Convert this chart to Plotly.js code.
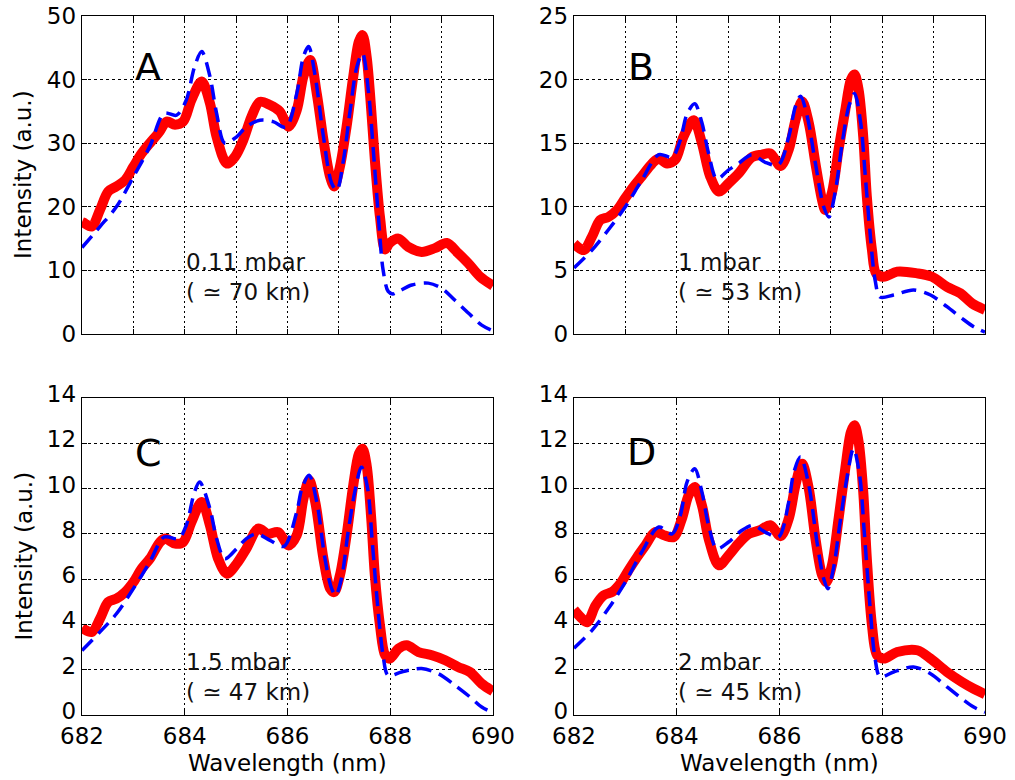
<!DOCTYPE html>
<html>
<head>
<meta charset="utf-8">
<script src="https://cdn.plot.ly/plotly-3.0.1.min.js"></script>
<style>html,body{margin:0;padding:0;background:#fff;}#chart{width:1015px;height:780px;}</style>
</head>
<body>
<div id="chart"></div>
<script>
// ---------- Data ----------
// Panel A (0.11 mbar)
const wlA_obs = [682.00,682.03,682.19,682.35,682.51,682.67,682.84,683.00,683.16,683.32,683.49,683.65,683.81,683.97,684.13,684.33,684.49,684.62,684.82,684.98,685.14,685.30,685.46,685.66,685.85,686.02,686.18,686.31,686.44,686.57,686.70,686.83,686.91,687.02,687.15,687.28,687.39,687.46,687.54,687.63,687.70,687.80,687.90,687.99,688.16,688.35,688.61,688.87,689.10,689.32,689.52,689.75,690.00];
const intA_obs = [17.6,17.5,16.9,19.5,22.4,23.2,24.2,26.3,28.4,30.0,31.6,33.4,32.9,33.4,36.8,39.7,36.3,31.0,26.8,27.9,30.5,34.2,36.5,36.0,35.0,32.6,35.2,40.5,43.1,37.8,30.5,24.7,23.2,26.3,32.6,40.5,46.0,47.0,43.6,35.2,27.4,18.4,13.3,14.3,15.0,13.7,12.9,13.5,14.3,12.7,11.1,9.0,7.6];
const wlA_mod = [682.00,682.35,682.67,683.00,683.32,683.60,683.84,684.03,684.19,684.33,684.49,684.62,684.78,685.01,685.20,685.46,685.72,685.97,686.18,686.31,686.41,686.54,686.70,686.86,686.96,687.09,687.22,687.35,687.46,687.58,687.67,687.77,687.86,687.96,688.05,688.16,688.42,688.74,689.00,689.26,689.52,689.78,690.00];
const intA_mod = [13.6,16.9,20.0,24.7,29.5,34.7,34.4,36.8,42.0,44.4,40.5,34.7,30.0,31.0,32.6,33.6,33.4,32.5,37.8,43.6,45.2,40.5,31.0,23.7,22.6,27.4,35.2,42.0,44.1,37.8,28.9,18.4,10.1,6.7,6.3,6.7,7.7,8.0,7.2,5.3,3.3,1.4,0.5];

// Panel B (1 mbar)
const wlB_obs = [682.00,682.19,682.35,682.51,682.67,682.84,683.00,683.16,683.32,683.52,683.65,683.81,683.97,684.13,684.33,684.49,684.65,684.82,685.01,685.20,685.46,685.66,685.82,686.02,686.18,686.31,686.44,686.57,686.70,686.83,686.89,687.02,687.15,687.28,687.39,687.46,687.54,687.63,687.70,687.80,687.88,688.03,688.29,688.68,688.97,689.26,689.52,689.75,690.00];
const intB_obs = [7.1,6.6,7.65,8.96,9.2,9.75,10.7,11.6,12.4,13.4,13.8,13.4,13.7,15.5,16.8,15.0,12.4,11.2,11.85,12.6,13.9,14.1,14.2,13.2,14.5,16.8,18.3,16.6,13.4,10.5,9.75,11.1,14.5,17.6,20.0,20.4,19.2,15.5,10.8,6.6,4.77,4.5,4.9,4.77,4.5,3.7,3.2,2.4,1.9];
const wlB_mod = [682.00,682.35,682.67,683.00,683.32,683.65,683.91,684.07,684.20,684.35,684.49,684.62,684.78,685.01,685.20,685.46,685.72,685.98,686.18,686.31,686.41,686.54,686.70,686.86,686.96,687.09,687.22,687.35,687.46,687.58,687.67,687.77,687.86,687.96,688.22,688.61,688.94,689.26,689.55,689.78,690.00];
const intB_mod = [5.2,6.6,8.2,10.0,12.1,14.1,13.9,15.25,17.3,18.1,16.6,14.2,12.2,12.9,13.4,14.1,13.5,13.3,15.5,17.9,18.7,17.1,13.4,10.0,9.2,11.3,15.0,17.9,18.9,16.6,12.4,7.65,4.25,2.9,3.07,3.46,3.07,2.15,1.23,0.57,0.15];

// Panel C (1.5 mbar)
const wlC_obs = [682.00,682.19,682.35,682.51,682.67,682.84,683.00,683.16,683.32,683.52,683.62,683.81,683.97,684.13,684.33,684.49,684.65,684.82,685.01,685.20,685.43,685.62,685.82,686.02,686.18,686.31,686.42,686.54,686.70,686.83,686.91,687.02,687.15,687.28,687.39,687.46,687.54,687.63,687.70,687.80,687.90,687.99,688.16,688.32,688.55,688.81,689.07,689.32,689.55,689.78,690.00];
const intC_obs = [3.85,3.67,4.25,4.99,5.14,5.43,5.87,6.46,6.9,7.64,7.79,7.57,7.64,8.52,9.41,8.38,6.9,6.24,6.68,7.35,8.23,8.0,8.08,7.49,7.94,9.55,10.37,9.41,6.9,5.58,5.43,6.17,7.94,10.15,11.54,11.76,11.03,8.67,6.17,3.96,2.64,2.49,2.93,3.08,2.78,2.64,2.42,2.12,1.9,1.38,1.05];
const wlC_mod = [682.00,682.35,682.67,683.00,683.32,683.60,683.88,684.03,684.19,684.29,684.49,684.62,684.78,685.01,685.20,685.40,685.66,685.93,686.18,686.28,686.42,686.57,686.73,686.86,686.94,687.05,687.18,687.31,687.44,687.56,687.65,687.76,687.86,687.96,688.22,688.61,688.94,689.26,689.55,689.78,690.00];
const intC_mod = [2.85,3.67,4.47,5.58,6.76,7.86,7.79,8.38,9.85,10.29,9.11,7.79,6.9,7.35,7.79,8.0,7.71,7.45,8.97,10.0,10.59,9.41,6.9,5.58,5.29,6.02,8.08,9.85,10.95,10.0,7.64,4.7,2.64,1.75,1.9,2.05,1.82,1.31,0.8,0.35,0.1];

// Panel D (2 mbar)
const wlD_obs = [682.00,682.16,682.26,682.42,682.58,682.74,682.90,683.06,683.23,683.39,683.58,683.75,683.94,684.10,684.23,684.35,684.49,684.62,684.82,685.01,685.20,685.40,685.62,685.82,686.02,686.18,686.31,686.44,686.57,686.70,686.83,686.91,687.02,687.15,687.28,687.39,687.46,687.54,687.63,687.70,687.80,687.90,688.03,688.29,688.68,688.94,689.26,689.55,689.78,690.00];
const intD_obs = [4.65,4.25,4.1,4.84,5.29,5.43,5.8,6.39,6.98,7.49,8.08,7.94,7.86,8.67,9.7,10.07,9.26,7.79,6.61,7.05,7.57,8.0,8.16,8.38,7.9,8.67,10.15,11.1,10.0,7.79,6.17,5.87,6.61,8.67,10.88,12.5,12.8,12.06,9.85,6.9,3.96,2.64,2.49,2.78,2.86,2.49,1.9,1.46,1.16,0.92];
const wlD_mod = [682.00,682.35,682.67,683.00,683.32,683.65,683.91,684.07,684.20,684.35,684.49,684.62,684.78,685.01,685.27,685.49,685.72,685.98,686.18,686.28,686.41,686.57,686.73,686.86,686.94,687.05,687.18,687.31,687.44,687.56,687.65,687.76,687.86,687.96,688.22,688.61,688.94,689.26,689.55,689.78,690.00];
const intD_mod = [2.95,3.74,4.7,5.87,7.2,8.3,8.0,8.82,10.29,10.88,9.85,8.38,7.35,7.64,8.16,8.38,8.08,7.86,9.41,10.73,11.4,10.15,7.64,6.02,5.58,6.46,8.52,10.44,11.76,10.59,8.08,4.84,2.49,1.68,1.9,2.12,1.82,1.24,0.72,0.35,0.12];

const panelLetters = ['A','B','C','D'];
const pressureLabels = ['0.11 mbar<br>( ≃ 70 km)','1 mbar<br>( ≃ 53 km)','1.5 mbar<br>( ≃ 47 km)','2 mbar<br>( ≃ 45 km)'];
const yRanges = [[0,50],[0,25],[0,14],[0,14]];
const yDticks = [10,5,2,2];
const xRange = [682,690];

// ---------- Traces ----------
const FONT = 'DejaVu Sans, Liberation Sans, sans-serif';
const obs = [[wlA_obs,intA_obs],[wlB_obs,intB_obs],[wlC_obs,intC_obs],[wlD_obs,intD_obs]];
const mod = [[wlA_mod,intA_mod],[wlB_mod,intB_mod],[wlC_mod,intC_mod],[wlD_mod,intD_mod]];
const traces = [];
for (let i = 0; i < 4; i++) {
  const sx = i === 0 ? 'x' : 'x' + (i + 1);
  const sy = i === 0 ? 'y' : 'y' + (i + 1);
  traces.push({x: obs[i][0], y: obs[i][1], xaxis: sx, yaxis: sy, type: 'scatter', mode: 'lines',
    line: {color: '#ff0000', width: 10, shape: 'spline', smoothing: 0.9}, showlegend: false, hoverinfo: 'skip'});
  traces.push({x: mod[i][0], y: mod[i][1], xaxis: sx, yaxis: sy, type: 'scatter', mode: 'lines',
    line: {color: '#0000ff', width: 3.5, dash: '15px,8px', shape: 'spline', smoothing: 0.9}, showlegend: false, hoverinfo: 'skip'});
}

// ---------- Layout ----------
const W = 1015, H = 780;
const xDomL = [82 / W, 493 / W], xDomR = [574 / W, 985 / W];
const yDomT = [1 - 334 / H, 1 - 16 / H], yDomB = [1 - 715 / H, 1 - 398 / H];

function xax(dom, anchor, bottom) {
  return {domain: dom, anchor: anchor, range: xRange, autorange: false,
    dtick: bottom ? 2 : 1, tick0: 682, showticklabels: bottom,
    ticks: 'inside', ticklen: 5, tickwidth: 1, tickcolor: '#000',
    showline: true, linecolor: '#000', linewidth: 1.3, mirror: 'allticks',
    showgrid: true, gridcolor: '#000', gridwidth: 1, griddash: '2px,3px',
    zeroline: false, tickfont: {family: FONT, size: 23, color: '#000'}};
}
function yax(dom, anchor, i) {
  return {domain: dom, anchor: anchor, range: yRanges[i], autorange: false,
    dtick: yDticks[i], tick0: 0,
    ticks: 'inside', ticklen: 5, tickwidth: 1, tickcolor: '#000',
    showline: true, linecolor: '#000', linewidth: 1.3, mirror: 'allticks',
    showgrid: true, gridcolor: '#000', gridwidth: 1, griddash: '3px,3px',
    ticklabelshift: i >= 2 ? -4 : 0,
    zeroline: false, tickfont: {family: FONT, size: 23, color: '#000'}};
}

const annotations = [];
const letterPos = [[0.16, 0.84],[0.163, 0.84],[0.163, 0.826],[0.165, 0.83]];
const labelY = [0.179, 0.179, 0.12, 0.12];
for (let i = 0; i < 4; i++) {
  const xr = (i === 0 ? 'x' : 'x' + (i + 1)) + ' domain';
  const yr = (i === 0 ? 'y' : 'y' + (i + 1)) + ' domain';
  annotations.push({text: panelLetters[i], xref: xr, yref: yr, x: letterPos[i][0], y: letterPos[i][1],
    xanchor: 'center', yanchor: 'middle', showarrow: false, font: {family: FONT, size: 38, color: '#000'}});
  annotations.push({text: pressureLabels[i], xref: xr, yref: yr, x: 0.248, y: labelY[i],
    xanchor: 'left', yanchor: 'middle', align: 'left', showarrow: false,
    font: {family: FONT, size: 23, color: '#111'}});
}
// axis titles
annotations.push({text: 'Intensity (a.u.)', xref: 'paper', yref: 'y domain', x: 23 / W, y: 0.5,
  textangle: -90, xanchor: 'center', yanchor: 'middle', showarrow: false, font: {family: FONT, size: 23, color: '#000'}});
annotations.push({text: 'Intensity (a.u.)', xref: 'paper', yref: 'y3 domain', x: 23 / W, y: 0.5,
  textangle: -90, xanchor: 'center', yanchor: 'middle', showarrow: false, font: {family: FONT, size: 23, color: '#000'}});
annotations.push({text: 'Wavelength (nm)', xref: 'x3 domain', yref: 'paper', x: 0.5, y: 1 - 763 / H,
  xanchor: 'center', yanchor: 'middle', showarrow: false, font: {family: FONT, size: 23, color: '#000'}});
annotations.push({text: 'Wavelength (nm)', xref: 'x4 domain', yref: 'paper', x: 0.5, y: 1 - 763 / H,
  xanchor: 'center', yanchor: 'middle', showarrow: false, font: {family: FONT, size: 23, color: '#000'}});

const layout = {
  width: W, height: H, margin: {l: 0, r: 0, t: 0, b: 0},
  paper_bgcolor: '#fff', plot_bgcolor: '#fff',
  font: {family: FONT, color: '#000'},
  showlegend: false,
  xaxis: xax(xDomL, 'y', false), yaxis: yax(yDomT, 'x', 0),
  xaxis2: xax(xDomR, 'y2', false), yaxis2: yax(yDomT, 'x2', 1),
  xaxis3: xax(xDomL, 'y3', true), yaxis3: yax(yDomB, 'x3', 2),
  xaxis4: xax(xDomR, 'y4', true), yaxis4: yax(yDomB, 'x4', 3),
  annotations: annotations
};

Plotly.newPlot('chart', traces, layout, {staticPlot: true, displayModeBar: false});
</script>
</body>
</html>
